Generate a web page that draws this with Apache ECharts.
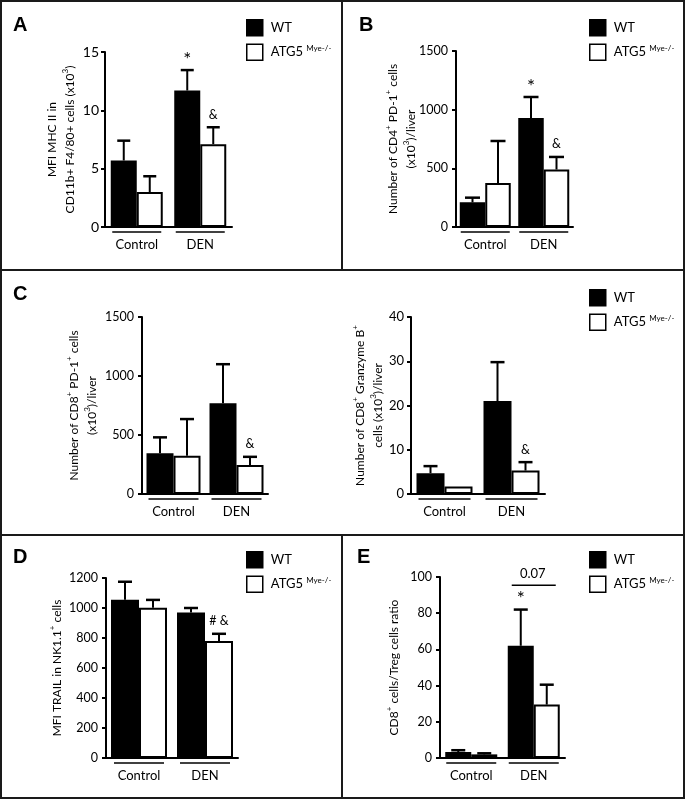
<!DOCTYPE html>
<html>
<head>
<meta charset="utf-8">
<script src="https://cdn.jsdelivr.net/npm/echarts@6/dist/echarts.min.js"></script>
<style>html,body{margin:0;padding:0;background:#fff}#c{width:685px;height:799px}</style>
</head>
<body>
<div id="c"></div>
<script>
// ---------- data ----------
const categories = ['Control', 'DEN'];
const seriesNames = ['WT', 'ATG5'];

// Panel A: MFI MHC II (x10^3)
const aWT = [5.7, 11.7];   const aWTsem = [1.7, 1.75];
const aKO = [3.0, 7.1];    const aKOsem = [1.35, 1.45];
const aWTmark = ['', '*']; const aKOmark = ['', '&'];
const aTicks = [0, 5, 10, 15];

// Panel B: CD4+ PD-1+ cells
const bWT = [210, 930];    const bWTsem = [40, 178];
const bKO = [375, 490];    const bKOsem = [358, 107];
const bWTmark = ['', '*']; const bKOmark = ['', '&'];
const bTicks = [0, 500, 1000, 1500];

// Panel C (left): CD8+ PD-1+ cells
const cWT = [345, 770];    const cWTsem = [135, 330];
const cKO = [325, 245];    const cKOsem = [310, 70];
const cWTmark = ['', ''];  const cKOmark = ['', '&'];
const cTicks = [0, 500, 1000, 1500];

// Panel C (right): CD8+ Granzyme B+ cells
const gWT = [4.7, 21.0];   const gWTsem = [1.6, 8.8];
const gKO = [1.7, 5.3];    const gKOsem = [0, 1.9];
const gWTmark = ['', ''];  const gKOmark = ['', '&'];
const gTicks = [0, 10, 20, 30, 40];

// Panel D: MFI TRAIL in NK1.1+ cells
const dWT = [1055, 970];   const dWTsem = [120, 30];
const dKO = [1002, 780];   const dKOsem = [52, 48];
const dWTmark = ['', ''];  const dKOmark = ['', '# &'];
const dTicks = [0, 200, 400, 600, 800, 1000, 1200];

// Panel E: CD8+/Treg ratio
const eWT = [3.3, 62];     const eWTsem = [1.0, 20];
const eKO = [2.0, 29.5];   const eKOsem = [0.6, 11];
const eWTmark = ['', '*']; const eKOmark = ['', ''];
const eTicks = [0, 20, 40, 60, 80, 100];
const eBracket = { cat: 1, value: 95.5, text: '0.07' };

// ---------- layout / style ----------
const FONT = 'Lato';
const panels = [
  { grid: { left: 105, top: 52, width: 127, height: 175 }, wt: aWT, wtS: aWTsem, ko: aKO, koS: aKOsem, wtM: aWTmark, koM: aKOmark, ticks: aTicks,
    name: 'MFI MHC II in\nCD11b+ F4/80+ cells (x10{s|3})', nameGap: 26, bw: 26, cap: 13, tickFont: 14, labelMargin: 6, legend: [241, 14], uw: 24.5 },
  { grid: { left: 456, top: 51, width: 117, height: 176 }, wt: bWT, wtS: bWTsem, ko: bKO, koS: bKOsem, wtM: bWTmark, koM: bKOmark, ticks: bTicks,
    name: 'Number of CD4{s|+} PD-1{s|+} cells\n(x10{s|3})/liver', nameGap: 36, bw: 25.5, cap: 15, tickFont: 12.5, labelMargin: 8, legend: [584, 14], uw: 24.5 },
  { grid: { left: 142, top: 317, width: 126, height: 177 }, wt: cWT, wtS: cWTsem, ko: cKO, koS: cKOsem, wtM: cWTmark, koM: cKOmark, ticks: cTicks,
    name: 'Number of CD8{s|+} PD-1{s|+} cells\n(x10{s|3})/liver', nameGap: 41, bw: 27, cap: 14, tickFont: 12.5, labelMargin: 8, legend: null, uw: 25 },
  { grid: { left: 411, top: 317, width: 134, height: 177 }, wt: gWT, wtS: gWTsem, ko: gKO, koS: gKOsem, wtM: gWTmark, koM: gKOmark, ticks: gTicks,
    name: 'Number of CD8{s|+} Granzyme B{s|+}\ncells (x10{s|3})/liver', nameGap: 24, bw: 28, cap: 14, tickFont: 13, labelMargin: 7, legend: [584, 284], uw: 26 },
  { grid: { left: 106, top: 578, width: 132, height: 180 }, wt: dWT, wtS: dWTsem, ko: dKO, koS: dKOsem, wtM: dWTmark, koM: dKOmark, ticks: dTicks,
    name: 'MFI TRAIL in NK1.1{s|+} cells', nameGap: 40, bw: 28, cap: 14, tickFont: 12.5, labelMargin: 8, legend: [241, 546], uw: 25 },
  { grid: { left: 440, top: 577, width: 125, height: 181 }, wt: eWT, wtS: eWTsem, ko: eKO, koS: eKOsem, wtM: eWTmark, koM: eKOmark, ticks: eTicks,
    name: 'CD8{s|+} cells/Treg cells ratio', nameGap: 37, bw: 26, cap: 14, tickFont: 12.5, labelMargin: 8, legend: [584, 546], uw: 25 }
];

const grids = [], xAxes = [], yAxes = [], series = [], legends = [];

function errSeries(gi, means, sems, marks, side, bw, capW) {
  return {
    type: 'custom', xAxisIndex: gi, yAxisIndex: gi, z: 5, clip: false, silent: true,
    data: means.map((m, i) => [i, m, sems[i]]),
    renderItem(params, api) {
      const i = api.value(0), m = api.value(1), s = api.value(2);
      const base = api.coord([i, m]);
      const top = api.coord([i, m + s]);
      const x = base[0] + side * bw / 2;
      const children = [];
      if (s > 0) {
        children.push({ type: 'line', shape: { x1: x, y1: base[1], x2: x, y2: top[1] }, style: { stroke: '#000', lineWidth: 2 } });
        children.push({ type: 'line', shape: { x1: x - capW / 2, y1: top[1], x2: x + capW / 2, y2: top[1] }, style: { stroke: '#000', lineWidth: 2.5 } });
      }
      const mk = marks[params.dataIndex];
      if (mk) {
        const star = mk === '*';
        children.push({ type: 'text', style: { text: mk, x: x, y: top[1] - (star ? 1 : 6), align: 'center', verticalAlign: 'bottom',
          fontFamily: FONT, fontSize: star ? 19 : 12.5, fill: '#000' } });
      }
      return { type: 'group', children };
    }
  };
}

function underlineSeries(gi, hw) {
  return {
    type: 'custom', xAxisIndex: gi, yAxisIndex: gi, z: 5, clip: false, silent: true,
    data: categories.map((c, i) => [i, 0]),
    renderItem(params, api) {
      const p = api.coord([api.value(0), 0]);
      return { type: 'line', shape: { x1: p[0] - hw, y1: p[1] + 5, x2: p[0] + hw, y2: p[1] + 5 }, style: { stroke: '#000', lineWidth: 1.5 } };
    }
  };
}

panels.forEach((p, gi) => {
  grids.push(Object.assign({ containLabel: false, outerBoundsMode: 'none' }, p.grid));
  xAxes.push({
    type: 'category', gridIndex: gi, data: categories,
    axisLine: { show: true, lineStyle: { color: '#000', width: 2 } },
    axisTick: { show: false },
    axisLabel: { color: '#000', fontFamily: FONT, fontSize: 13, margin: 11 }
  });
  const t = p.ticks;
  yAxes.push({
    type: 'value', gridIndex: gi, min: t[0], max: t[t.length - 1], interval: t[1] - t[0],
    axisLine: { show: true, lineStyle: { color: '#000', width: 2 } },
    axisTick: { show: true, length: 4, lineStyle: { color: '#000', width: 2 } },
    splitLine: { show: false },
    axisLabel: { color: '#000', fontFamily: FONT, fontSize: p.tickFont, margin: p.labelMargin, formatter: v => String(v) },
    name: p.name, nameLocation: 'middle', nameGap: p.nameGap, nameMoveOverlap: false,
    nameTextStyle: { color: '#000', fontFamily: FONT, fontSize: 12, lineHeight: 18,
      rich: { s: { fontFamily: FONT, fontSize: 8, lineHeight: 10, verticalAlign: 'top', color: '#000' } } }
  });
  series.push({
    type: 'bar', name: seriesNames[0], xAxisIndex: gi, yAxisIndex: gi, data: p.wt, barWidth: p.bw, barGap: '0%',
    itemStyle: { color: '#000', borderColor: '#000', borderWidth: 2 }, silent: true
  });
  series.push({
    type: 'bar', name: seriesNames[1], xAxisIndex: gi, yAxisIndex: gi, data: p.ko, barWidth: p.bw, barGap: '0%',
    itemStyle: { color: '#fff', borderColor: '#000', borderWidth: 2 }, silent: true
  });
  series.push(errSeries(gi, p.wt, p.wtS, p.wtM, -1, p.bw, p.cap));
  series.push(errSeries(gi, p.ko, p.koS, p.koM, 1, p.bw, p.cap));
  series.push(underlineSeries(gi, p.uw));
  if (p.legend) {
    legends.push({
      left: p.legend[0], top: p.legend[1], orient: 'vertical', itemWidth: 16, itemHeight: 16, itemGap: 7,
      icon: 'rect', selectedMode: false,
      data: [
        { name: seriesNames[0], itemStyle: { color: '#000', borderColor: '#000', borderWidth: 1.5 } },
        { name: seriesNames[1], itemStyle: { color: '#fff', borderColor: '#000', borderWidth: 1.5 } }
      ],
      formatter: n => n === 'ATG5' ? 'ATG5 {s|Mye-/-}' : n,
      textStyle: { color: '#000', fontFamily: FONT, fontSize: 13, lineHeight: 16, padding: [0, 0, 0, 3],
        rich: { s: { fontFamily: FONT, fontSize: 8, lineHeight: 9, verticalAlign: 'top', color: '#000' } } }
    });
  }
});

// bracket with p-value in panel E
series.push({
  type: 'custom', xAxisIndex: 5, yAxisIndex: 5, z: 5, clip: false, silent: true,
  data: [[eBracket.cat, eBracket.value]],
  renderItem(params, api) {
    const c = api.coord([api.value(0), api.value(1)]);
    return { type: 'group', children: [
      { type: 'line', shape: { x1: c[0] - 22, y1: c[1], x2: c[0] + 22, y2: c[1] }, style: { stroke: '#000', lineWidth: 1.5 } },
      { type: 'text', style: { text: eBracket.text, x: c[0] - 1, y: c[1] - 5, align: 'center', verticalAlign: 'bottom', fontFamily: FONT, fontSize: 13, fill: '#000' } }
    ] };
  }
});

const letterFont = { fontFamily: 'Liberation Sans', fontWeight: 'bold', fontSize: 20, fill: '#000' };
const letters = [['A', 13, 25], ['B', 359, 25], ['C', 13, 294], ['D', 13, 557], ['E', 357, 557]];
const graphic = [
  { type: 'rect', shape: { x: 1, y: 1, width: 683, height: 797 }, style: { fill: 'none', stroke: '#1a1a1a', lineWidth: 2 }, silent: true },
  { type: 'line', shape: { x1: 0, y1: 270, x2: 685, y2: 270 }, style: { stroke: '#1a1a1a', lineWidth: 2 }, silent: true },
  { type: 'line', shape: { x1: 0, y1: 535, x2: 685, y2: 535 }, style: { stroke: '#1a1a1a', lineWidth: 2 }, silent: true },
  { type: 'line', shape: { x1: 342, y1: 0, x2: 342, y2: 270 }, style: { stroke: '#1a1a1a', lineWidth: 2 }, silent: true },
  { type: 'line', shape: { x1: 342, y1: 535, x2: 342, y2: 799 }, style: { stroke: '#1a1a1a', lineWidth: 2 }, silent: true }
].concat(letters.map(l => ({ type: 'text', x: l[1], y: l[2], style: Object.assign({ text: l[0], verticalAlign: 'middle', align: 'left' }, letterFont), silent: true })));

const chart = echarts.init(document.getElementById('c'), null, { renderer: 'canvas', width: 685, height: 799 });
chart.setOption({
  animation: false,
  backgroundColor: '#fff',
  grid: grids, xAxis: xAxes, yAxis: yAxes, series, legend: legends, graphic
});
</script>
</body>
</html>
